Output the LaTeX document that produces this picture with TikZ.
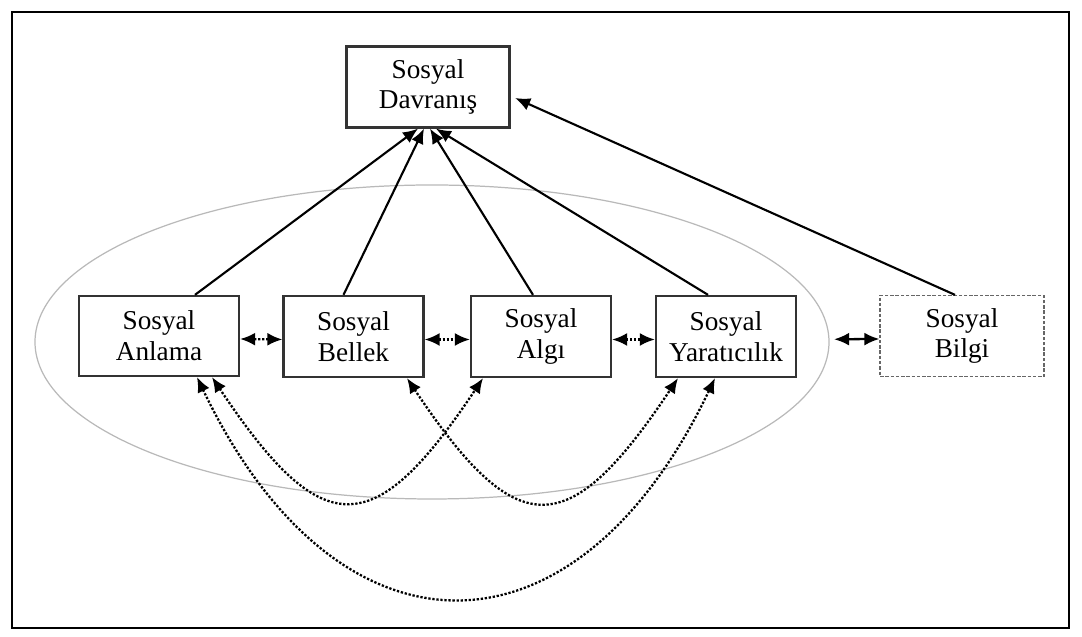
\documentclass[tikz,border=0pt]{standalone}
\usepackage{fontspec}
\setmainfont{Liberation Serif}
\usetikzlibrary{positioning,arrows.meta,calc}

\begin{document}
\begin{tikzpicture}[
  box/.style={draw=black!80,line width=1.3pt,minimum width=2.8cm,minimum height=1.62cm,align=center,fill=white,font=\fontsize{15.5}{17.5}\selectfont},
  arr/.style={-{Latex[length=3mm,width=2.6mm]},line width=1.2pt},
  dbl/.style={{Latex[length=3mm,width=2.6mm]}-{Latex[length=3mm,width=2.6mm]},line width=1.3pt,densely dotted}]
\useasboundingbox (0,0) rectangle (21.64,12.74);
\draw[line width=1.5pt] (0.24,0.18) rectangle (21.38,12.5);
% grey ellipse round the four inner boxes
\draw[gray!55,line width=0.7pt] (8.64,5.9) ellipse [x radius=7.94, y radius=3.14];
\node[box,minimum width=3.26cm] (dav) at (8.56,11.0) {Sosyal\\Davranış};
\node[box,minimum width=3.2cm,minimum height=1.6cm] (anl) at (3.18,6.02) {Sosyal\\Anlama};
\node[box] (bel) at (7.07,6.01) {Sosyal\\Bellek};
\node[box] (alg) at (10.82,6.01) {Sosyal\\Algı};
\node[box] (yar) at (14.52,6.01) {Sosyal\\Yaratıcılık};
\node[box,draw=black!60,line width=0.7pt,dash pattern=on 2pt off 1pt,minimum width=3.28cm] (bil) at (19.24,6.02) {Sosyal\\Bilgi};
\draw[arr] ([xshift=0.72cm]anl.north) -- ([xshift=-0.2cm]dav.south);
\draw[arr] ([xshift=-0.2cm]bel.north) -- ([xshift=-0.08cm]dav.south);
\draw[arr] ([xshift=-0.16cm]alg.north) -- ([xshift=0.04cm]dav.south);
\draw[arr] ([xshift=-0.36cm]yar.north) -- ([xshift=0.16cm]dav.south);
\draw[arr,shorten >=0.1cm] ([xshift=-0.14cm]bil.north) -- ([yshift=-0.18cm]dav.east);
\draw[dbl] ([yshift=-0.06cm]anl.east) -- ([yshift=-0.06cm]bel.west);
\draw[dbl] ([yshift=-0.06cm]bel.east) -- ([yshift=-0.06cm]alg.west);
\draw[dbl] ([yshift=-0.06cm]alg.east) -- ([yshift=-0.06cm]yar.west);
\draw[dbl,solid,shorten <=0.74cm] ([yshift=-0.06cm]yar.east) -- ([yshift=-0.06cm]bil.west);
% curved links under the boxes
\draw[dbl] ([xshift=1.06cm]anl.south) .. controls +(2.2,-3.3) and +(-2.2,-3.3) .. ([xshift=-1.16cm]alg.south);
\draw[dbl] ([xshift=1.07cm]bel.south) .. controls +(2.2,-3.3) and +(-2.2,-3.3) .. ([xshift=-0.96cm]yar.south);
\draw[dbl] ([xshift=0.76cm]anl.south) .. controls +(2.8,-5.86) and +(-2.8,-5.86) .. ([xshift=-0.22cm]yar.south);
\end{tikzpicture}
\end{document}
